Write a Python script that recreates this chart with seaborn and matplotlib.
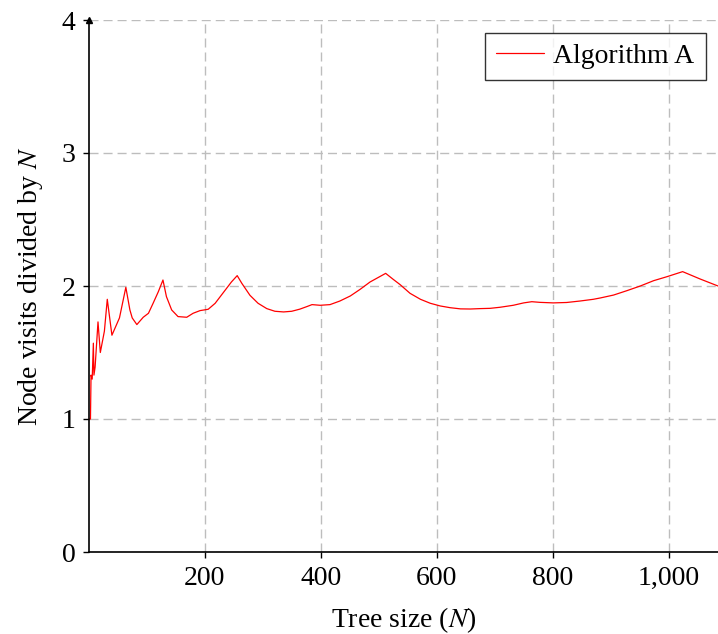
import seaborn as sns
import matplotlib.pyplot as plt
import pandas as pd

# Valores (N, visitas / N)
tree_size = [1, 3, 4, 6, 8, 9, 11, 16, 20, 27, 32, 40, 53, 64, 71, 75, 83, 94, 103,
             111, 120, 128, 134, 143, 154, 169, 180, 192, 206, 218, 232, 246, 256,
             264, 278, 292, 307, 321, 336, 350, 364, 376, 385, 399, 416, 433, 451,
             468, 485, 512, 525, 537, 554, 572, 589, 606, 623, 641, 658, 675, 692,
             709, 732, 750, 764, 778, 801, 824, 847, 870, 882, 905, 928, 951, 974,
             997, 1024, 1054, 1085]
visits_ratio = [1.0, 1.0, 1.33, 1.30, 1.57, 1.33, 1.39, 1.73, 1.50, 1.66, 1.90, 1.63,
                1.76, 1.99, 1.82, 1.76, 1.71, 1.765, 1.795, 1.87, 1.957, 2.045, 1.92,
                1.82, 1.77, 1.765, 1.795, 1.815, 1.825, 1.87, 1.95, 2.03, 2.078, 2.02,
                1.93, 1.87, 1.83, 1.81, 1.805, 1.81, 1.826, 1.845, 1.86, 1.855, 1.86,
                1.887, 1.925, 1.975, 2.03, 2.095, 2.05, 2.01, 1.945, 1.90, 1.87, 1.85,
                1.837, 1.828, 1.827, 1.83, 1.832, 1.84, 1.855, 1.873, 1.882, 1.877,
                1.873, 1.876, 1.887, 1.90, 1.91, 1.932, 1.965, 2.0, 2.04, 2.07, 2.108,
                2.053, 2.0]
x_ticks = [200, 400, 600, 800, 1000]
x_tick_labels = ['200', '400', '600', '800', '1,000']
y_ticks = [0, 1, 2, 3, 4]

df = pd.DataFrame({'N': tree_size, 'ratio': visits_ratio, 'serie': 'Algorithm A'})

sns.set_theme(style='white')
plt.rcParams['font.family'] = ['Liberation Serif', 'DejaVu Serif']
plt.rcParams['mathtext.fontset'] = 'stix'
plt.rcParams['font.size'] = 20
plt.rcParams['text.color'] = 'black'
plt.rcParams['axes.labelcolor'] = 'black'
plt.rcParams['xtick.color'] = 'black'
plt.rcParams['ytick.color'] = 'black'

fig = plt.figure(figsize=(7.18, 6.34), dpi=100)
ax = fig.add_axes([89.3 / 718, 82 / 634, 1 - 89.3 / 718, 532 / 634])

sns.lineplot(data=df, x='N', y='ratio', hue='serie', palette=['#ff0000'],
             linewidth=0.9, ax=ax)

ax.set_xlim(1, 1085)
ax.set_ylim(0, 4)
ax.set_xticks(x_ticks)
ax.set_xticklabels(x_tick_labels)
ax.set_yticks(y_ticks)
ax.tick_params(axis='both', labelsize=20, direction='out', length=4, width=1,
               color='black', labelcolor='black', pad=6, left=True, bottom=True)

# Grade tracejada
ax.grid(True, color='#bdbdbd', linestyle=(0, (6.5, 3.6)), linewidth=1.0)
ax.set_axisbelow(True)

for side in ['top', 'right']:
    ax.spines[side].set_visible(False)
for side in ['left', 'bottom']:
    ax.spines[side].set_color('black')
    ax.spines[side].set_linewidth(1.2)

# Seta no topo do eixo y
ax.plot([0], [1], marker='^', markersize=5, color='black',
        transform=ax.transAxes, clip_on=False)

ax.set_xlabel('Tree size ($N$)', fontsize=20, labelpad=10, color='black')
ax.set_ylabel('Node visits divided by $N$', fontsize=20, labelpad=12, color='black')

leg = ax.legend(loc='upper right', fontsize=20, frameon=True, fancybox=False,
                edgecolor='black', handlelength=1.7, handletextpad=0.35,
                borderpad=0.4, borderaxespad=0.45)
leg.get_frame().set_linewidth(1.0)
for txt in leg.get_texts():
    txt.set_color('black')

fig.savefig('out.png', dpi=100)
